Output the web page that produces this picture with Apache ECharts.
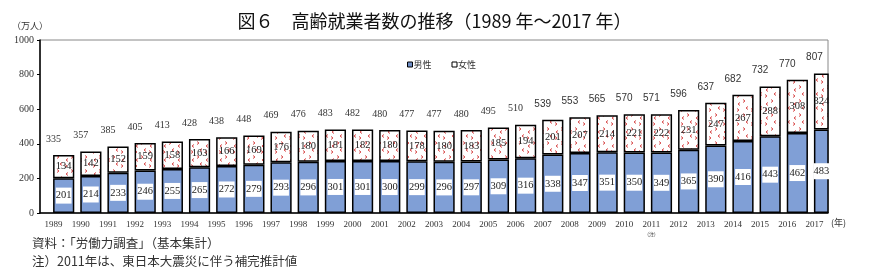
<!DOCTYPE html>
<html>
<head>
<meta charset="utf-8">
<script src="https://cdn.jsdelivr.net/npm/echarts@6/dist/echarts.min.js"></script>
<style>
  html, body { margin: 0; padding: 0; background: #fff; }
  #chart { width: 869px; height: 280px; }
</style>
</head>
<body>
<div id="chart"></div>
<script>
// data
const years = ['1989','1990','1991','1992','1993','1994','1995','1996','1997','1998','1999','2000','2001','2002','2003','2004','2005','2006','2007','2008','2009','2010','2011','2012','2013','2014','2015','2016','2017']
const male = [201,214,233,246,255,265,272,279,293,296,301,301,300,299,296,297,309,316,338,347,351,350,349,365,390,416,443,462,483]
const female = [134,142,152,159,158,163,166,169,176,180,181,182,180,178,180,183,185,194,201,207,214,221,222,231,247,267,288,308,324]
const total = [335,357,385,405,413,428,438,448,469,476,483,482,480,477,477,480,495,510,539,553,565,570,571,596,637,682,732,770,807]
const yTicks = [0, 200, 400, 600, 800, 1000]
const noteYear = '2011'

// 女性: 白地に赤い「< >」
const makeRedPattern = () => {
    const c = document.createElement('canvas')
    c.width = 14; c.height = 14
    const ctx = c.getContext('2d')
    ctx.fillStyle = '#fff'
    ctx.fillRect(0, 0, 14, 14)
    ctx.strokeStyle = '#d84a4a'
    ctx.lineWidth = 1
    const chev = (x, y, dir) => {
        ctx.beginPath()
        ctx.moveTo(x + 2 * dir, y - 1.5)
        ctx.lineTo(x, y)
        ctx.lineTo(x + 2 * dir, y + 1.5)
        ctx.stroke()
    }
    chev(3, 3, -1)
    chev(10, 6, 1)
    chev(4, 10, 1)
    chev(11, 12, -1)
    return c
}

const serif = '"Liberation Serif", "DejaVu Serif", serif'
const sans = '"Liberation Sans", Arial, sans-serif'
const jp = '"Noto Sans CJK JP", sans-serif'

const chart = echarts.init(document.getElementById('chart'))
chart.setOption({
    animation: false,
    title: {
        text: '図６　高齢就業者数の推移（1989 年～2017 年）',
        left: 'center',
        top: 7,
        textStyle: { fontFamily: jp, fontSize: 18, fontWeight: 'normal', color: '#111' }
    },
    legend: {
        data: [
            { name: '男性', itemStyle: { color: '#6f8fc8', borderColor: '#000', borderWidth: 1 } },
            { name: '女性', itemStyle: { color: '#fff', borderColor: '#000', borderWidth: 1 } }
        ],
        left: 402,
        top: 55,
        icon: 'rect',
        itemWidth: 5,
        itemHeight: 5,
        itemGap: 20,
        textStyle: { fontFamily: jp, fontSize: 9, color: '#333', padding: [0, 0, 0, -4] }
    },
    grid: {
        left: 40, right: 41, top: 40, bottom: 67,
        show: true, borderColor: '#888', borderWidth: 1
    },
    xAxis: {
        type: 'category',
        data: years,
        axisLine: { lineStyle: { color: '#000', width: 1.5 } },
        axisTick: { show: false },
        axisLabel: {
            interval: 0,
            margin: 7,
            fontFamily: serif,
            fontSize: 9,
            color: '#333',
            formatter: v => v === noteYear ? v + '\n{n|(注)}' : v,
            rich: { n: { fontSize: 5, fontFamily: jp, color: '#333', lineHeight: 10 } }
        }
    },
    yAxis: {
        type: 'value',
        min: yTicks[0],
        max: yTicks[yTicks.length - 1],
        interval: 200,
        axisLine: { show: true, lineStyle: { color: '#000', width: 1.5 } },
        axisTick: { show: true, length: 3, lineStyle: { color: '#000' } },
        splitLine: { show: false },
        axisLabel: { fontFamily: serif, fontSize: 10, color: '#333', margin: 6, formatter: v => String(v) }
    },
    series: [
        {
            name: '男性',
            type: 'bar',
            stack: 'total',
            barWidth: '78%',
            data: male,
            itemStyle: {
                color: '#809fd6',
                borderColor: '#000',
                borderWidth: 1.5
            },
            label: {
                show: true,
                position: 'inside',
                fontFamily: serif,
                fontSize: 10.5,
                color: '#222',
                backgroundColor: '#fff',
                padding: [3, 0, 2, 0]
            }
        },
        {
            name: '女性',
            type: 'bar',
            stack: 'total',
            data: female,
            itemStyle: {
                color: { image: makeRedPattern(), repeat: 'repeat' },
                borderColor: '#000',
                borderWidth: 1.5
            },
            label: {
                show: true,
                position: 'inside',
                fontFamily: serif,
                fontSize: 10.5,
                color: '#222'
            }
        },
        {
            name: '合計',
            type: 'bar',
            barGap: '-100%',
            data: total.map((v, i) => ({
                value: v,
                label: { fontFamily: i >= 18 ? sans : serif }
            })),
            itemStyle: { color: 'rgba(0,0,0,0)' },
            z: 1,
            silent: true,
            label: {
                show: true,
                position: 'top',
                distance: 11,
                fontSize: 10,
                color: '#333'
            }
        }
    ],
    graphic: [
        { type: 'text', left: 12, top: 21, style: { text: '（万人）', fontFamily: jp, fontSize: 9, fill: '#333' } },
        { type: 'text', left: 831, top: 218, style: { text: '(年)', fontFamily: jp, fontSize: 9, fill: '#333' } },
        { type: 'text', left: 32, top: 237, style: { text: '資料：「労働力調査」（基本集計）', fontFamily: jp, fontSize: 12.5, fill: '#333' } },
        { type: 'text', left: 32, top: 255, style: { text: '注）2011年は、東日本大震災に伴う補完推計値', fontFamily: jp, fontSize: 12.5, fill: '#333' } }
    ]
})
</script>
</body>
</html>
